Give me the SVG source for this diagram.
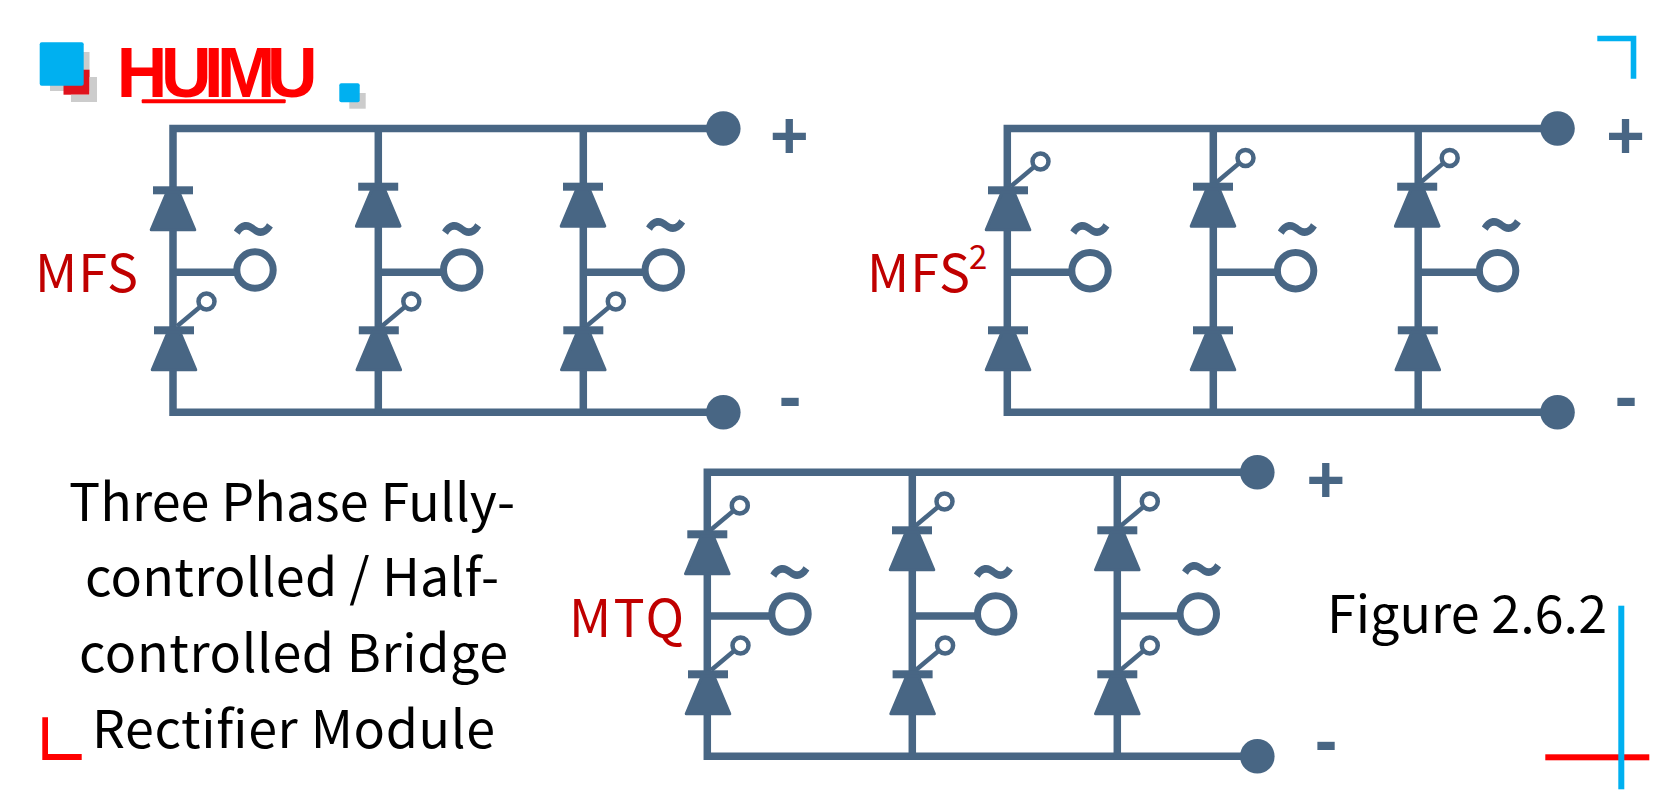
<svg xmlns="http://www.w3.org/2000/svg" xmlns:xlink="http://www.w3.org/1999/xlink" width="1679" height="797" viewBox="0 0 1679 797">
<style>
.w{fill:none;stroke:#486684;stroke-width:7.5}
.c{fill:#486684}
.ac{fill:#fff;stroke:#486684;stroke-width:7}
.g{fill:none;stroke:#486684;stroke-width:4.5}
.gc{fill:#fff;stroke:#486684;stroke-width:4.5}
.sym{font-family:"Liberation Sans",sans-serif;font-weight:700;fill:#486684;text-anchor:middle}
.plus{font-size:66px}
.minus{font-size:68px}
.tilde{font-family:"Noto Sans CJK SC",sans-serif;font-size:75px}
.lab{font-family:"Noto Sans CJK SC","Noto Sans",sans-serif;font-size:52px;fill:#c00000}
.txt{font-family:"Noto Sans CJK SC","Noto Sans",sans-serif;font-size:52px;fill:#000}
.blue{fill:#00b0f0}
.red{fill:#f00}
.grey{fill:#ccc}
</style>
<defs>
<g id="diode"><rect class="c" x="-20" y="-4" width="40" height="8"/><polygon class="c" stroke="#486684" stroke-width="3" stroke-linejoin="round" points="-6,2 6,2 21.8,39.5 -21.8,39.5"/></g>
<g id="thy"><use xlink:href="#diode"/><path class="g" d="M3,-4L32.5,-28.8"/><circle class="gc" cx="32.5" cy="-28.8" r="8"/></g>
</defs>

<g id="logo">
<rect class="grey" x="50" y="52" width="39.5" height="39"/>
<rect x="63.5" y="69.7" width="26" height="25" fill="#e0121c"/>
<path class="grey" d="M89.5,77H97V102H71V94.7H89.5Z"/>
<rect class="blue" x="39.7" y="42.3" width="44" height="43.4" rx="2"/>
<text x="116.7 161 204 217 267" y="96.5" font-family="'Liberation Sans',sans-serif" font-weight="700" font-size="70" fill="#f00">HUIMU</text>
<rect class="red" x="141.7" y="99.3" width="144" height="4" rx="1"/>
<rect class="grey" x="349.3" y="93" width="16.4" height="15.7"/>
<rect class="blue" x="339.3" y="83.3" width="20.4" height="19" rx="2"/>
</g>

<g id="connectors">
<path class="w" d="M723,128.5H173V412.3H723"/>
<path class="w" d="M378.3,128.5V413M583.3,128.5V413"/>
<path class="w" d="M173,272.3H238M378.3,272.3H445M583.3,272.3H646"/>
<path class="w" d="M1557.5,128.5H1007.3V412.3H1557.5"/>
<path class="w" d="M1213.3,128.5V413M1418.2,128.5V413"/>
<path class="w" d="M1007.3,272.3H1072M1213.3,272.3H1278M1418.2,272.3H1480"/>
<path class="w" d="M1257,472.3H707.3V756.3H1257"/>
<path class="w" d="M912.3,472.3V757M1117.3,472.3V757"/>
<path class="w" d="M707.3,616H772M912.3,616H978M1117.3,616H1180"/>
</g>

<g id="mfs-top">
<use id="d1" xlink:href="#diode" x="173" y="190.3"/>
<use id="d2" xlink:href="#diode" x="378.2" y="186.7"/>
<use id="d3" xlink:href="#diode" x="583" y="186.7"/>
</g>
<g id="mfs-bottom">
<use id="t1" xlink:href="#thy" x="174" y="330.3"/>
<use id="t2" xlink:href="#thy" x="378.8" y="330.3"/>
<use id="t3" xlink:href="#thy" x="583.3" y="330.3"/>
</g>
<g id="mfs-ac">
<circle class="ac" cx="255" cy="270" r="18.2"/><text class="sym tilde" x="253.3" y="256.7">~</text>
<circle class="ac" cx="461.7" cy="270" r="18.2"/><text class="sym tilde" x="461.7" y="256.7">~</text>
<circle class="ac" cx="663.3" cy="270" r="18.2"/><text class="sym tilde" x="665.7" y="253.3">~</text>
</g>
<g id="mfs-term">
<circle class="c" cx="723.3" cy="128.5" r="17.3"/><circle class="c" cx="723.3" cy="412.3" r="17.3"/>
<text class="sym plus" x="789.3" y="158">+</text><text class="sym minus" x="790" y="420">-</text>
<text class="lab" x="35" y="291.7" textLength="103">MFS</text>
</g>

<g id="mfs2-top">
<use id="t4" xlink:href="#thy" x="1008" y="190.3"/>
<use id="t5" xlink:href="#thy" x="1213" y="186.7"/>
<use id="t6" xlink:href="#thy" x="1417.2" y="186.7"/>
</g>
<g id="mfs2-bottom">
<use id="d4" xlink:href="#diode" x="1008" y="330.3"/>
<use id="d5" xlink:href="#diode" x="1213" y="330.3"/>
<use id="d6" xlink:href="#diode" x="1417.8" y="330.3"/>
</g>
<g id="mfs2-ac">
<circle class="ac" cx="1090" cy="270.7" r="18.2"/><text class="sym tilde" x="1090" y="256.7">~</text>
<circle class="ac" cx="1295.6" cy="270.7" r="18.2"/><text class="sym tilde" x="1297.4" y="256.7">~</text>
<circle class="ac" cx="1497.6" cy="270.7" r="18.2"/><text class="sym tilde" x="1501.5" y="253.3">~</text>
</g>
<g id="mfs2-term">
<circle class="c" cx="1557.5" cy="128.5" r="17.3"/><circle class="c" cx="1557.5" cy="412.3" r="17.3"/>
<text class="sym plus" x="1625.5" y="158">+</text><text class="sym minus" x="1626" y="420">-</text>
<text class="lab" x="867" y="292.3" textLength="103">MFS</text><text class="lab" x="969" y="269" style="font-size:33px">2</text>
</g>

<g id="mtq-top">
<use id="t7" xlink:href="#thy" x="707.3" y="534.3"/>
<use id="t8" xlink:href="#thy" x="912" y="530.3"/>
<use id="t9" xlink:href="#thy" x="1117.3" y="530.3"/>
</g>
<g id="mtq-bottom">
<use id="t10" xlink:href="#thy" x="708" y="674.3"/>
<use id="t11" xlink:href="#thy" x="912.6" y="674.3"/>
<use id="t12" xlink:href="#thy" x="1117.3" y="674.3"/>
</g>
<g id="mtq-ac">
<circle class="ac" cx="790" cy="614" r="18.2"/><text class="sym tilde" x="790" y="600">~</text>
<circle class="ac" cx="995.7" cy="614" r="18.2"/><text class="sym tilde" x="993.3" y="600">~</text>
<circle class="ac" cx="1198.3" cy="614" r="18.2"/><text class="sym tilde" x="1201.7" y="597.3">~</text>
</g>
<g id="mtq-term">
<circle class="c" cx="1257.3" cy="472.3" r="17.3"/><circle class="c" cx="1257.3" cy="756.3" r="17.3"/>
<text class="sym plus" x="1325.7" y="502">+</text><text class="sym minus" x="1326" y="764">-</text>
<text class="lab" x="569" y="636.7" textLength="115">MTQ</text>
</g>

<g id="caption">
<text class="txt" x="69" y="520.7" textLength="446">Three Phase Fully-</text>
<text class="txt" x="85" y="595.7" textLength="414">controlled / Half-</text>
<text class="txt" x="79" y="672.3" textLength="429">controlled Bridge</text>
<text class="txt" x="92" y="748.3" textLength="403">Rectifier Module</text>
<text class="txt" x="1327" y="632.7" textLength="280">Figure 2.6.2</text>
</g>

<g id="corners">
<path class="blue" d="M1597.3,35.7H1636.3V78.7H1630.7V41.3H1597.3Z"/>
<path class="red" d="M42.3,717.3H48V754H81.7V760H42.3Z"/>
<rect class="red" x="1545.3" y="754.3" width="104" height="6"/>
<rect class="blue" x="1618.3" y="605.7" width="6" height="183.6"/>
</g>
</svg>
